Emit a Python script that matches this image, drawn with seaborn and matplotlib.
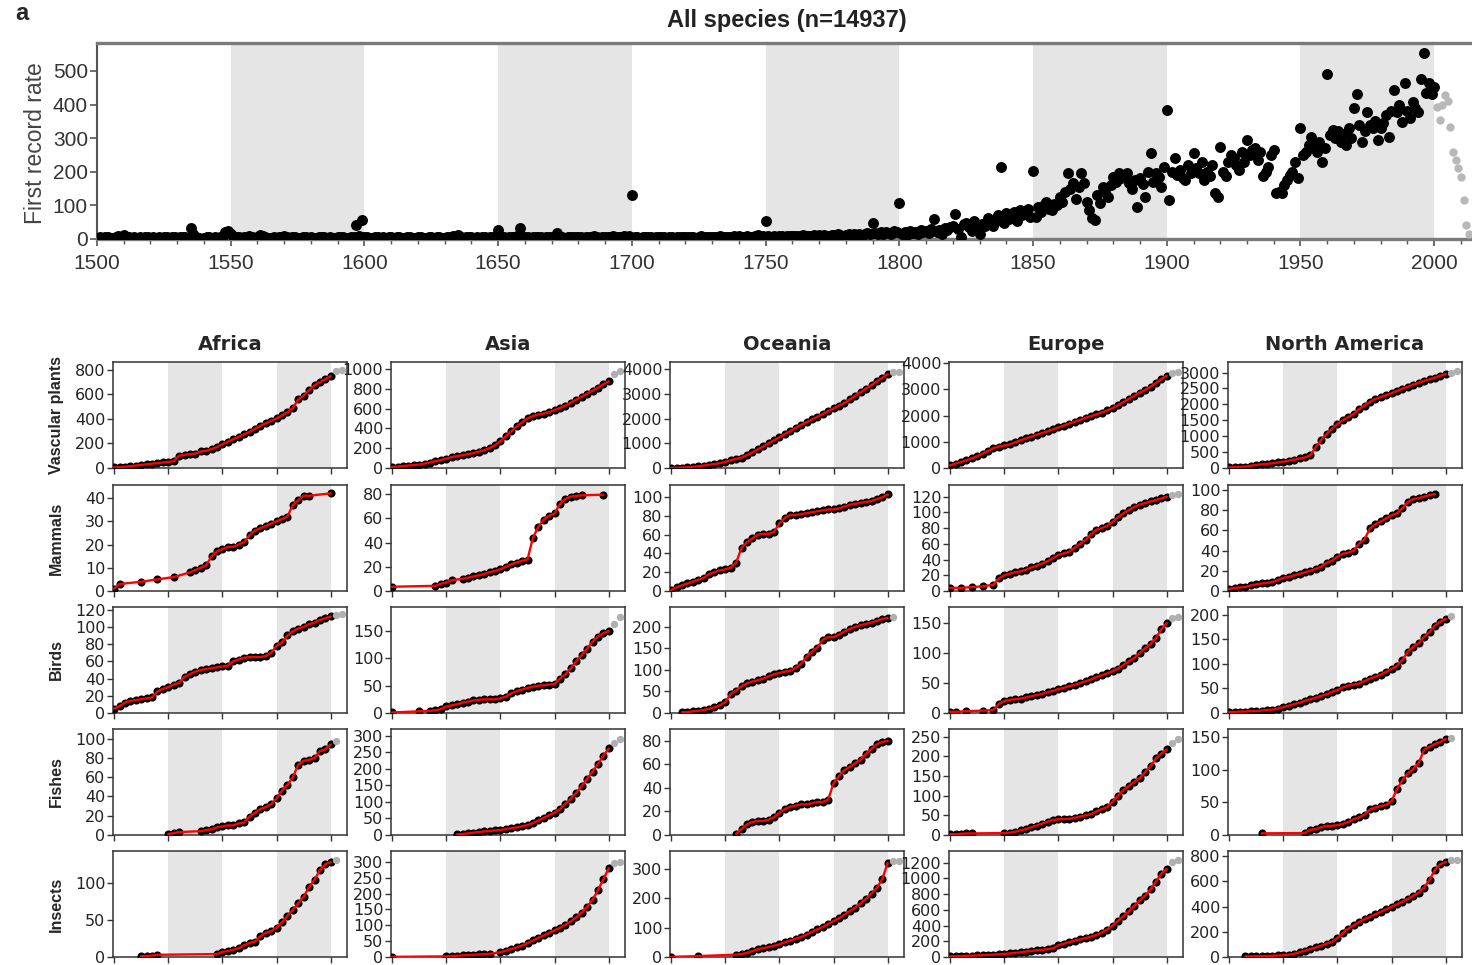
import numpy as np
import pandas as pd
import seaborn as sns
import matplotlib.pyplot as plt
from matplotlib.ticker import MultipleLocator

N = None

# ---- panel a: yearly first record rate, all species ----
rate_1500s = [4, 6, 3, 5, 7, 4, 3, 5, 9, 6, 12, 7, 5, 4, 6, 3, 5, 4, 7, 5,
              4, 5, 3, 6, 4, 5, 7, 3, 6, 5, 4, 6, 5, 7, 3, 33, 14, 6, 4, 1,
              2, 5, 7, 4, 6, 3, 5, 9, 20, 25, 16, 9, 7, 5, 4, 6, 3, 8, 5, 4,
              6, 12, 9, 5, 4, 3, 6, 4, 7, 5, 9, 6, 4, 5, 7, 3, 4, 6, 5, 3,
              6, 4, 3, 5, 7, 6, 4, 5, 3, 4, 5, 7, 6, 4, 3, 5, 7, 42, 8, 58]
rate_1600s = [7, 5, 4, 3, 6, 5, 4, 7, 3, 5, 6, 4, 5, 7, 3, 4, 6, 5, 4, 3,
              5, 6, 4, 3, 7, 5, 4, 6, 5, 4, 4, 5, 6, 9, 7, 12, 5, 4, 6, 5,
              5, 4, 6, 3, 5, 7, 4, 5, 6, 4, 28, 6, 5, 4, 7, 5, 6, 8, 34, 7,
              5, 6, 4, 5, 7, 6, 5, 4, 6, 5, 6, 5, 18, 7, 5, 4, 6, 5, 7, 6,
              5, 6, 4, 7, 5, 6, 8, 5, 4, 6, 7, 5, 6, 8, 6, 5, 7, 9, 6, 8]
rate_1700s = [131, 6, 5, 4, 6, 7, 5, 6, 4, 5, 6, 5, 7, 4, 6, 5, 4, 7, 5, 6,
              5, 7, 6, 5, 4, 6, 8, 5, 7, 6, 7, 6, 5, 8, 6, 7, 5, 6, 8, 7,
              8, 6, 7, 10, 7, 6, 8, 12, 9, 8, 54, 8, 7, 9, 6, 8, 10, 7, 9, 8,
              9, 10, 8, 7, 11, 9, 8, 10, 12, 9, 11, 9, 12, 10, 8, 13, 11, 14, 12, 10,
              12, 14, 11, 15, 13, 16, 12, 14, 18, 15, 47, 18, 14, 20, 16, 22, 18, 15, 24, 20]
rate_1800s = [108, 15, 20, 12, 25, 18, 22, 14, 28, 20, 24, 18, 30, 60, 22, 26, 15, 32, 28, 35,
              40, 74, 30, 5, 45, 49, 35, 25, 55, 30, 15, 45, 38, 62, 50, 40, 55, 70, 215, 47,
              77, 60, 67, 80, 55, 87, 70, 77, 90, 65, 203, 66, 96, 80, 100, 111, 90, 85, 105, 100,
              126, 110, 140, 196, 150, 166, 120, 156, 195, 166, 111, 86, 62, 57, 130, 106, 156, 140, 126, 160,
              185, 170, 195, 180, 190, 195, 166, 150, 176, 96, 180, 165, 126, 200, 255, 170, 195, 185, 156, 215]
rate_1900s = [384, 116, 200, 240, 190, 205, 180, 176, 220, 195, 255, 210, 195, 230, 176, 200, 186, 220, 136, 126,
              275, 200, 186, 230, 250, 240, 220, 205, 260, 230, 295, 250, 265, 270, 235, 260, 186, 200, 215, 250,
              265, 136, 140, 136, 160, 176, 190, 200, 230, 180, 329, 250, 260, 280, 304, 275, 260, 290, 230, 270,
              490, 310, 323, 300, 320, 290, 313, 279, 330, 300, 389, 431, 340, 290, 320, 379, 340, 329, 350, 295,
              330, 344, 370, 304, 380, 443, 379, 400, 349, 463, 380, 359, 408, 390, 379, 475, 554, 433, 463, 430,
              453]
rate_late = [394, 354, 400, 429, 410, 332, 260, 235, 210, 185, 116, 42, 15]

# ---- panel b: cumulative first records, 1800-2010 every 5 years (after 2000 = incomplete) ----
grid_years = list(range(1800, 2011, 5))
regions = ['Africa', 'Asia', 'Oceania', 'Europe', 'North America']
taxa = ['Vascular plants', 'Mammals', 'Birds', 'Fishes', 'Insects']

africa_plants = [5, 8, 10, 15, 20, 25, 30, 35, 40, 45, 50, 55, 100, 108, 112, 118, 135, 140, 155, 170,
                 195, 215, 235, 255, 275, 295, 320, 345, 365, 385, 405, 430, 455, 490, 560, 590, 635, 675, 700, 725,
                 750, 795, 800]
africa_mammals = [1, 3, N, N, N, 4, N, N, 5, N, N, 6, N, N, 8, 9, 10, 11, 15, 17,
                  18, 19, 19, 20, 21, 24, 26, 27, 28, 29, 30, 31, 32, 37, 39, 41, 41, N, N, N,
                  42, N, N]
africa_birds = [5, 8, 12, 14, 15, 16, 17, 18, 25, 28, 30, 33, 35, 42, 45, 48, 50, 51, 52, 53,
                54, 55, 60, 62, 64, 65, 65, 65, 66, 70, 78, 82, 90, 95, 98, 100, 103, 105, 108, 110,
                112, 114, 115]
africa_fishes = [N, N, N, N, N, N, N, N, N, N, 1, 2, 3, N, N, N, 4, 5, 6, 8,
                 9, 10, 10, 12, 13, 19, 23, 27, 29, 32, 38, 46, 52, 60, 73, 77, 78, 80, 87, 89,
                 94, 98, N]
africa_insects = [N, N, N, N, N, 1, 1.5, 2, 3, N, N, N, N, N, N, N, N, N, N, 4,
                  7, 8, 10, 12, 16, 19, 21, 28, 33, 35, 40, 47, 56, 64, 73, 82, 95, 105, 118, 126,
                  129, 132, N]

asia_plants = [10, 15, 20, 25, 30, 35, 45, 55, 70, 80, 95, 110, 120, 130, 140, 150, 165, 180, 200, 230,
               270, 320, 370, 420, 460, 500, 525, 540, 550, 565, 585, 605, 630, 660, 690, 720, 750, 780, 810, 845,
               875, 950, 975]
asia_mammals = [3.5, N, N, N, N, N, N, N, 4.3, 6, 7, 9, N, 10, 11, 12, 13, 14, 15.5, 16.5,
                18, 20, 22, 23.5, 25, 26, 44, 53, 59, 62, 64, 72, 76, 78, 78.5, 79, N, N, N, 79.5,
                N, N, N]
asia_birds = [1, N, N, N, N, 3, N, 4, 5, 7, 12, 14, 16, 19, 21, 23, 24, 25, 25, 25,
              27, 30, 36, 40, 43, 46, 48, 50, 51, 52, 53, 63, 71, 82, 95, 106, 118, 130, 140, 146,
              150, 163, 175]
asia_fishes = [N, N, N, N, N, N, N, N, N, N, N, N, 2, 3, 5, 7, 9, 11, 12, 14,
               15, 18, 21, 23, 26, 30, 36, 44, 52, 60, 68, 78, 95, 110, 128, 148, 170, 192, 215, 240,
               262, 278, 290]
asia_insects = [0.5, N, N, N, N, N, N, N, N, N, 2, 3, 4, 5, 6, 7, 8, 9, 10, N,
                15, 20, 25, 30, 36, 44, 52, 60, 68, 76, 84, 92, 102, 112, 125, 140, 158, 180, 210, 245,
                280, 295, 300]

oceania_plants = [5, 10, 20, 30, 45, 70, 100, 130, 160, 195, 250, 310, 370, 420, 520, 630, 750, 870, 990, 1120,
                  1240, 1370, 1490, 1620, 1740, 1850, 1960, 2070, 2180, 2300,
                  2410, 2520, 2630, 2770, 2920, 3060, 3210, 3350, 3500, 3650, 3790, 3870, 3880]
oceania_mammals = [1, 4, 6, 8, 10, 12, 14, 18, 20, 22, 23, 25, 30, 46, 52, 56, 60, 61, 61, 63,
                   72, 78, 81, 81, 82, 83, 84, 85, 86, 87, 87, 88, 90, 92, 93, 94, 95, 96, 98, 100,
                   103, N, N]
oceania_birds = [N, N, 1.5, 2, 4, 5, 7, 10, 13, 18, 25, 44, 52, 62, 69, 73, 76, 80, 85, 90,
                 93, 96, 98, 105, 114, 130, 142, 152, 170, 176, 176, 182, 189, 195, 200, 204, 207, 210, 214, 218,
                 221, 223, N]
oceania_fishes = [N, N, N, N, N, N, N, N, N, N, N, N, 1, 5, 9, 11, 12, 12, 13, 15,
                  19, 22, 24, 25, 26, 26, 27, 28, 28, 30, 44, 50, 55, 58, 61, 64, 69, 73, 77, 79,
                  80, N, N]
oceania_insects = [0.5, N, N, N, N, 3, N, N, N, N, N, N, 8, 10, 14, 20, 26, 30, 34, 38,
                   43, 50, 56, 62, 68, 76, 85, 94, 102, 112, 122, 132, 144, 156, 168, 182, 198, 215, 235, 265,
                   320, 325, 326]

europe_plants = [100, 170, 230, 300, 370, 450, 550, 650, 760, 820, 860, 900, 980, 1060, 1130, 1200, 1270, 1340, 1400, 1480,
                 1550, 1620, 1700, 1770, 1840, 1920, 1980, 2050, 2120, 2200,
                 2290, 2400, 2520, 2640, 2760, 2880, 2980, 3100, 3250, 3400, 3520, 3640, 3680]
europe_mammals = [4, N, 4, N, 5, N, 6, N, 8, 16, 20, 22, 24, 25, 27, 30, 32, 35, 38, 42,
                  46, 48, 50, 55, 60, 65, 72, 78, 80, 83, 88, 94, 99, 103, 107, 110, 112, 114, 116, 118,
                  120, 122, 123]
europe_birds = [2, 2, N, 3, N, N, 4, N, 5, 15, 20, 22, 23, 24, 26, 28, 30, 32, 35, 37,
                40, 42, 45, 47, 50, 53, 56, 60, 63, 66, 70, 74, 80, 86, 92, 100, 108, 115, 125, 140,
                150, 158, 160]
europe_fishes = [2, 2, 3, 4, 4, N, N, N, N, N, 5, 6, 8, 12, 15, 20, 24, 29, 34, 38,
                 40, 41, 41, 44, 47, 50, 53, 60, 66, 71, 85, 100, 115, 125, 135, 145, 160, 175, 195, 207,
                 218, 235, 245]
europe_insects = [8, 10, 12, 15, 18, 20, 24, 27, 30, 35, 40, 45, 52, 60, 70, 78, 85, 92, 100, 110,
                  150, 170, 190, 210, 225, 240, 260, 280, 310, 350, 400, 460, 520, 580, 650, 720, 780, 860, 960, 1060,
                  1120, 1210, 1240]

namerica_plants = [20, 30, 38, 45, 70, 100, 115, 130, 150, 175, 200, 230, 260, 300, 330, 400, 650, 880, 1070, 1230,
                   1380, 1500, 1600, 1700, 1850, 1960, 2080, 2170, 2230, 2290,
                   2350, 2420, 2490, 2550, 2620, 2680, 2740, 2790, 2840, 2900, 2950, 3000, 3060]
namerica_mammals = [2, 3, 3.5, 4, 5.5, 6.5, 7.5, 8, 9, 11, 13, 14, 15.5, 17, 18.5, 20, 22, 24, 28, 30,
                    34, 37, 38, 40, 47, 51, 62, 66, 69, 72, 75, 77, 82, 88, 91, 92, 93.5, 95, 96, N,
                    N, N, N]
namerica_birds = [2, 2, 3, 3, 4, 4, 5, 6, 7, 9, 12, 15, 18, 21, 25, 28, 31, 35, 38, 43,
                  47, 52, 56, 58, 60, 65, 70, 74, 78, 84, 90, 96, 108, 125, 135, 142, 155, 165, 178, 186,
                  192, 197, N]
namerica_fishes = [N, N, N, N, N, N, 2.5, N, N, N, N, N, N, N, 3, 8, 9, 12, 14, 14,
                   15, 17, 20, 24, 27, 31, 39, 42, 44, 46, 52, 70, 84, 94, 101, 110, 130, 135, 139, 142,
                   147, 149, N]
namerica_insects = [N, N, N, 5, 5, 6, 7, 8, 10, 12, 14, 18, 25, 38, 50, 63, 76, 90, 105, 120,
                    150, 190, 225, 250, 278, 300, 318, 338, 358, 378, 398, 418, 438, 460, 485, 510, 550, 610, 690, 735,
                    752, 766, 769]

series = {
    'Africa': [africa_plants, africa_mammals, africa_birds, africa_fishes, africa_insects],
    'Asia': [asia_plants, asia_mammals, asia_birds, asia_fishes, asia_insects],
    'Oceania': [oceania_plants, oceania_mammals, oceania_birds, oceania_fishes, oceania_insects],
    'Europe': [europe_plants, europe_mammals, europe_birds, europe_fishes, europe_insects],
    'North America': [namerica_plants, namerica_mammals, namerica_birds, namerica_fishes, namerica_insects],
}
# y-axis top and tick step per row (taxon), one entry per region
y_top = [[865, 1070, 4283, 4050, 3330],
         [45.6, 87.5, 113, 135, 105],
         [123, 194, 246, 177, 216],
         [110, 321, 90, 270, 162],
         [144, 334, 360, 1350, 840]]
y_step = [[200, 200, 1000, 1000, 500],
          [10, 20, 20, 20, 20],
          [20, 50, 50, 50, 50],
          [20, 50, 20, 50, 50],
          [50, 50, 100, 200, 200]]

# ---- figure ----
sns.set_style('ticks')
narrow = ['Liberation Sans Narrow', 'Liberation Sans', 'DejaVu Sans']
plt.rcParams['font.family'] = narrow

W, H = 1472, 965
fig = plt.figure(figsize=(W / 100, H / 100), dpi=100)
SHADE = '#e5e5e5'


def box(l, t, w, h):
    return [l / W, 1 - (t + h) / H, w / W, h / H]


# panel a
ax = fig.add_axes(box(97, 43, 1384, 196))
for s in range(1550, 2000, 100):
    ax.axvspan(s, s + 50, color=SHADE, lw=0, zorder=0)
top = pd.DataFrame({'year': np.arange(1500, 2001),
                    'rate': rate_1500s + rate_1600s + rate_1700s + rate_1800s + rate_1900s})
late = pd.DataFrame({'year': np.arange(2001, 2001 + len(rate_late)), 'rate': rate_late})
sns.scatterplot(data=top, x='year', y='rate', color='black', s=62, linewidth=0, ax=ax, zorder=3)
sns.scatterplot(data=late, x='year', y='rate', color='#b8b8b8', s=36, linewidth=0, ax=ax, zorder=3)
ax.set_xlim(1500, 2017.5)
ax.set_ylim(0, 583)
ax.xaxis.set_major_locator(MultipleLocator(50))
ax.xaxis.set_minor_locator(MultipleLocator(10))
ax.set_yticks([0, 100, 200, 300, 400, 500])
ax.tick_params(axis='both', which='major', direction='out', length=5, width=1.2,
               color='#555555', labelcolor='#333333', labelsize=15)
ax.tick_params(axis='x', which='major', pad=6)
ax.tick_params(axis='y', which='major', pad=1.5)
ax.tick_params(axis='x', which='minor', direction='out', length=3.5, width=1, color='#555555')
for side in ['top', 'bottom']:
    ax.spines[side].set_color('#7a7a7a')
    ax.spines[side].set_linewidth(2.4)
ax.spines['left'].set_color('#555555')
ax.spines['left'].set_linewidth(1.5)
ax.spines['right'].set_visible(False)
ax.set_xlabel('')
ax.set_ylabel('First record rate', fontsize=16.5, color='#444444')
ax.yaxis.set_label_coords(-0.036, 0.49)

fig.text(787 / W, 1 - 21 / H, 'All species (n=14937)', ha='center', va='center',
         fontsize=17, fontweight='bold', color='#222222')
fig.text(22 / W, 1 - 14 / H, 'a', ha='center', va='center', fontsize=17, fontweight='bold')

# panel b: small multiples
col_left = [113, 391, 670, 949, 1228]
row_top = [362, 485, 607, 729, 851]
wide = ['DejaVu Sans']

for j, reg in enumerate(regions):
    for i, tax in enumerate(taxa):
        a = fig.add_axes(box(col_left[j], row_top[i], 234, 106))
        for s in (1850, 1950):
            a.axvspan(s, s + 50, color=SHADE, lw=0, zorder=0)
        d = pd.DataFrame({'year': grid_years, 'n': pd.Series(series[reg][i], dtype=float)}).dropna()
        early = d[d.year <= 2000]
        recent = d[d.year > 2000]
        sns.scatterplot(data=early, x='year', y='n', color='black', s=34, linewidth=0, ax=a, zorder=3)
        sns.scatterplot(data=recent, x='year', y='n', color='#b0b0b0', s=28, linewidth=0, ax=a, zorder=3)
        sns.lineplot(data=early, x='year', y='n', color='red', lw=1.7, errorbar=None, ax=a, zorder=4)
        a.set_xlim(1799, 2015)
        a.set_ylim(0, y_top[i][j])
        a.xaxis.set_major_locator(MultipleLocator(50))
        a.yaxis.set_major_locator(MultipleLocator(y_step[i][j]))
        a.set_xticklabels([])
        a.tick_params(direction='out', length=4, width=1, color='#333333', labelsize=11.5,
                      labelcolor='#222222', pad=1.5)
        for lab in a.get_yticklabels():
            lab.set_family(wide)
        for sp in a.spines.values():
            sp.set_color('#333333')
            sp.set_linewidth(1.1)
        a.set_xlabel('')
        a.set_ylabel('')

for j, reg in enumerate(regions):
    fig.text((col_left[j] + 117) / W, 1 - 344 / H, reg, ha='center', va='center',
             fontsize=14, fontweight='bold', family=wide)
for i, tax in enumerate(taxa):
    fig.text(56 / W, 1 - (row_top[i] + 53) / H, tax, ha='center', va='center', rotation=90,
             fontsize=11.5, fontweight='bold')

fig.savefig('out.png', dpi=100)
